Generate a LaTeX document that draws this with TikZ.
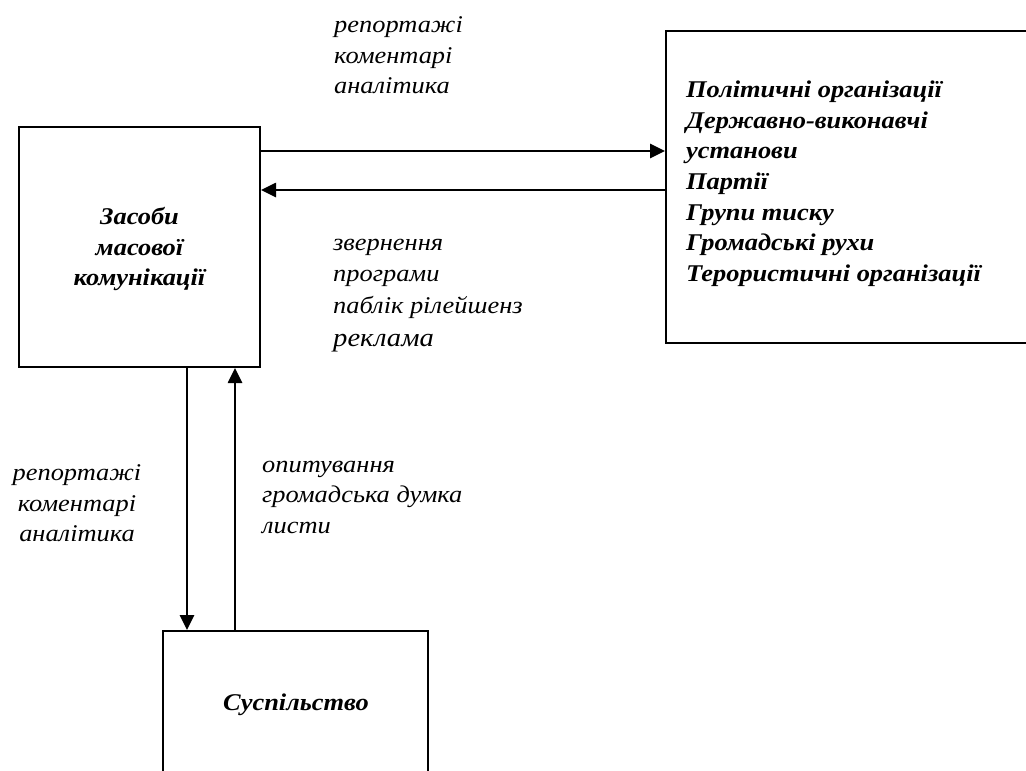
\documentclass[tikz,border=0pt]{standalone}
\usepackage{fontspec}
\setmainfont{Liberation Serif}[FakeStretch=1.1]
\usetikzlibrary{arrows.meta}
\tikzset{
  box/.style={draw,line width=2pt,inner sep=0pt},
  lbl/.style={font=\fontsize{24}{30.5}\selectfont\itshape,inner sep=0pt,align=left},
  lblb/.style={font=\fontsize{24}{30.7}\selectfont\bfseries\itshape,inner sep=0pt},
  flow/.style={line width=2.6pt,-{Triangle[length=15pt,width=14pt]}}
}
\begin{document}
\begin{tikzpicture}[x=1pt,y=-1pt]
\useasboundingbox (0,0) rectangle (1026,771);
% boxes
\node[box,minimum width=241pt,minimum height=240pt] (smk) at (139.5,247) {};
\node[box,minimum width=370pt,minimum height=312pt] (org) at (851,187) {};
\node[box,minimum width=265pt,minimum height=190pt] (soc) at (295.5,726) {};
% box texts
\node[lblb,align=center] (smktxt) at (139.5,249) {Засоби\\масової\\комунікації};
\node[lblb,align=left,anchor=north west] (orgtxt) at (686,80.5) {Політичні організації\\Державно-виконавчі\\установи\\Партії\\Групи тиску\\Громадські рухи\\Терористичні організації};
\node[lblb] (soctxt) at (296,705) {Суспільство};
% labels
\node[lbl,anchor=north west] (rep1) at (334,16.5) {репортажі\\коментарі\\аналітика};
\node[lbl,anchor=north west,font=\fontsize{24}{31.5}\selectfont\itshape] (zv) at (333,238.5) {звернення\\програми\\паблік рілейшенз\\[2pt]{\fontsize{26}{30}\selectfont реклама}};
\node[lbl,align=center,anchor=north] (rep2) at (77,464.5) {репортажі\\коментарі\\аналітика};
\node[lbl,anchor=north west] (op) at (262,460.5) {опитування\\громадська думка\\листи};
% connectors
\coordinate (h1) at ([yshift=-25pt]smk.north east);
\coordinate (h2) at ([yshift=-64pt]smk.north east);
\draw[flow] (h1) -- (h1 -| org.west);
\draw[flow] (h2 -| org.west) -- (h2);
\coordinate (v1) at ([xshift=47.5pt]smk.south);
\coordinate (v2) at ([xshift=95.5pt]smk.south);
\draw[flow] (v1) -- (v1 |- soc.north);
\draw[flow] (v2 |- soc.north) -- (v2);
\end{tikzpicture}
\end{document}
